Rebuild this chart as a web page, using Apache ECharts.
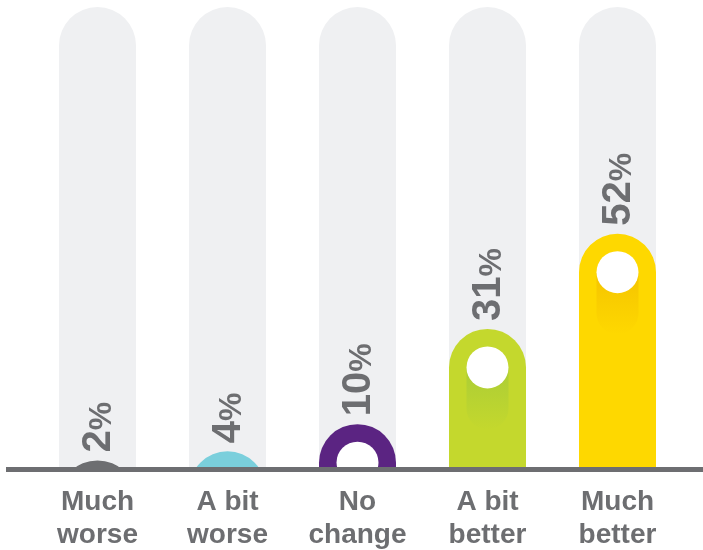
<!DOCTYPE html>
<html>
<head>
<meta charset="utf-8">
<script src="https://cdn.jsdelivr.net/npm/echarts@6/dist/echarts.min.js"></script>
<style>
html, body { margin: 0; padding: 0; background: #fff; }
#chart { width: 703px; height: 550px; }
</style>
</head>
<body>
<div id="chart"></div>
<script>
var categories = ['Much\nworse', 'A bit\nworse', 'No\nchange', 'A bit\nbetter', 'Much\nbetter'];
var values = [2, 4, 10, 31, 52];
var barColors = ['#6d6e71', '#7acfdc', '#5b2482', '#c4d82d', '#fed800'];
var shadeColors = ['#5d5e61', '#66bfcc', '#4a1a6e', '#abcd36', '#f5c400'];
var axisMax = 102;

var textColor = '#6d6e71';
var barWidth = 77;
var radius = barWidth / 2;
var dotRadius = 21;

function renderBar(params, api) {
    var i = params.dataIndex;
    var v = api.value(1);
    var pt = api.coord([i, v]);
    var cx = pt[0], ty = pt[1];
    var cs = params.coordSys;
    var bottom = cs.y + cs.height;
    return {
        type: 'group',
        children: [
            // track
            {type: 'rect', shape: {x: cx - radius, y: cs.y, width: barWidth, height: cs.height + radius * 2, r: radius},
                style: {fill: '#eff0f2'}},
            // bar
            {type: 'rect', shape: {x: cx - radius, y: ty, width: barWidth, height: bottom - ty + radius * 2, r: radius},
                style: {fill: barColors[i]}},
            // shade under the dot
            {type: 'rect', shape: {x: cx - dotRadius, y: ty + radius, width: dotRadius * 2, height: 62, r: [0, 0, dotRadius, dotRadius]},
                style: {fill: new echarts.graphic.LinearGradient(0, 0, 0, 1, [
                    {offset: 0, color: shadeColors[i]},
                    {offset: 1, color: barColors[i]}
                ])}},
            {type: 'circle', shape: {cx: cx, cy: ty + radius, r: dotRadius}, style: {fill: '#fff'}},
            // value label
            {type: 'text', x: cx + 1, y: ty - 8, rotation: Math.PI / 2,
                style: {
                    text: '{n|' + v + '}{p|%}',
                    align: 'left',
                    verticalAlign: 'middle',
                    rich: {
                        n: {fontSize: 40, fontWeight: 'bold', fontFamily: 'Liberation Sans', fill: textColor, lineHeight: 40, verticalAlign: 'bottom'},
                        p: {fontSize: 32, fontWeight: 'bold', fontFamily: 'Liberation Sans', fill: textColor, lineHeight: 40, verticalAlign: 'bottom'}
                    }
                }}
        ]
    };
}

var chart = echarts.init(document.getElementById('chart'), null, {renderer: 'canvas'});
chart.setOption({
    backgroundColor: '#fff',
    animation: false,
    grid: {left: 32.5, right: 20.5, top: 7, bottom: 80.5, containLabel: false, outerBoundsMode: 'none'},
    xAxis: {
        type: 'category',
        data: categories,
        axisLine: {show: false},
        axisTick: {show: false},
        axisLabel: {
            margin: 16,
            color: textColor,
            fontSize: 28,
            fontWeight: 'bold',
            fontFamily: 'Liberation Sans',
            lineHeight: 33
        }
    },
    yAxis: {
        type: 'value',
        min: 0,
        max: axisMax,
        show: false,
        splitLine: {show: false}
    },
    graphic: [{
        type: 'line',
        z: 100,
        shape: {x1: 6, y1: 469.5, x2: 703, y2: 469.5},
        style: {stroke: '#6d6e71', lineWidth: 5}
    }],
    series: [{
        type: 'custom',
        clip: true,
        renderItem: renderBar,
        data: values.map(function (v, i) { return [i, v]; })
    }]
});
</script>
</body>
</html>
